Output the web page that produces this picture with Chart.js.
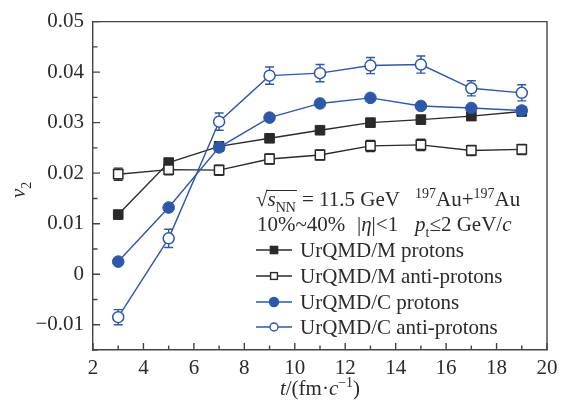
<!DOCTYPE html>
<html>
<head>
<meta charset="utf-8">
<script src="https://cdn.jsdelivr.net/npm/chart.js@4.4.1/dist/chart.umd.min.js"></script>
<style>
    body { margin: 0; background: #fff; }
    canvas { display: block; }
</style>
</head>
<body>
<canvas id="chart" width="565" height="401"></canvas>
<script>
const times = [3, 5, 7, 9, 11, 13, 15, 17, 19];
const mProtons = [0.0118, 0.0221, 0.0253, 0.0269, 0.0285, 0.0300, 0.0306, 0.0313, 0.0322];
const mAntiProtons = [0.0198, 0.0207, 0.0206, 0.0228, 0.0236, 0.0254, 0.0256, 0.0245, 0.0247];
const mAntiErr = [0.0012, 0.0010, 0.0010, 0.0010, 0.0010, 0.0011, 0.0011, 0.0010, 0.0010];
const cProtons = [0.0025, 0.0132, 0.0251, 0.0310, 0.0338, 0.0349, 0.0333, 0.0329, 0.0324];
const cAntiProtons = [-0.0085, 0.0071, 0.0302, 0.0393, 0.0398, 0.0413, 0.0415, 0.0368, 0.0359];
const cAntiErr = [0.0015, 0.0018, 0.0017, 0.0017, 0.0017, 0.0016, 0.0017, 0.0015, 0.0016];
const seriesNames = ['UrQMD/M protons', 'UrQMD/M anti-protons', 'UrQMD/C protons', 'UrQMD/C anti-protons'];

const BLACK = '#2a2a2a';
const BLUE = '#2d58a8';
const TEXT = '#2b2b2b';
const FONT = '"Liberation Serif", "Times New Roman", serif';

const toPoints = (vals) => times.map((t, i) => ({ x: t, y: vals[i] }));

// draw a row of text pieces (italic / sub / sup)
function drawRuns(ctx, x, y, runs, size) {
    let cx = x;
    runs.forEach(r => {
        const small = r.sub || r.sup;
        const fs = small ? Math.round(size * 0.66) : size;
        ctx.font = `${r.italic ? 'italic ' : ''}${fs}px ${FONT}`;
        let dy = 0;
        if (r.sub) dy = size * 0.28;
        if (r.sup) dy = -size * 0.38;
        ctx.fillText(r.t, cx, y + dy);
        cx += ctx.measureText(r.t).width + (r.gap || 0);
    });
    return cx;
}

function runsWidth(ctx, runs, size) {
    let w = 0;
    runs.forEach(r => {
        const fs = (r.sub || r.sup) ? Math.round(size * 0.66) : size;
        ctx.font = `${r.italic ? 'italic ' : ''}${fs}px ${FONT}`;
        w += ctx.measureText(r.t).width + (r.gap || 0);
    });
    return w;
}

function drawMarker(ctx, kind, x, y, s) {
    ctx.save();
    ctx.lineWidth = 1.4;
    if (kind === 'fsq' || kind === 'osq') {
        ctx.fillStyle = kind === 'fsq' ? BLACK : '#fff';
        ctx.strokeStyle = BLACK;
        ctx.fillRect(x - s, y - s, 2 * s, 2 * s);
        ctx.strokeRect(x - s, y - s, 2 * s, 2 * s);
    } else {
        ctx.beginPath();
        ctx.arc(x, y, s, 0, Math.PI * 2);
        ctx.fillStyle = kind === 'fci' ? BLUE : '#fff';
        ctx.strokeStyle = BLUE;
        ctx.fill();
        ctx.stroke();
    }
    ctx.restore();
}

const errorBars = {
    id: 'errorBars',
    beforeDatasetsDraw(chart) {
        const ctx = chart.ctx;
        const xs = chart.scales.x, ys = chart.scales.y;
        const sets = [[mAntiProtons, mAntiErr, BLACK], [cAntiProtons, cAntiErr, BLUE]];
        ctx.save();
        ctx.lineWidth = 1.4;
        sets.forEach(([vals, errs, color]) => {
            ctx.strokeStyle = color;
            times.forEach((t, i) => {
                const px = xs.getPixelForValue(t);
                const top = ys.getPixelForValue(vals[i] + errs[i]);
                const bot = ys.getPixelForValue(vals[i] - errs[i]);
                ctx.beginPath();
                ctx.moveTo(px, top); ctx.lineTo(px, bot);
                ctx.moveTo(px - 4.5, top); ctx.lineTo(px + 4.5, top);
                ctx.moveTo(px - 4.5, bot); ctx.lineTo(px + 4.5, bot);
                ctx.stroke();
            });
        });
        ctx.restore();
    }
};

const decorations = {
    id: 'decorations',
    afterDraw(chart) {
        const ctx = chart.ctx;
        const a = chart.chartArea;
        const xs = chart.scales.x, ys = chart.scales.y;
        ctx.save();

        // top and right frame
        ctx.strokeStyle = '#444';
        ctx.lineWidth = 1.4;
        ctx.beginPath();
        ctx.moveTo(a.left, a.top); ctx.lineTo(a.right, a.top); ctx.lineTo(a.right, a.bottom);
        ctx.stroke();

        // inward ticks
        ctx.beginPath();
        xs.ticks.forEach(tk => {
            const px = xs.getPixelForValue(tk.value);
            const len = tk.value % 2 === 0 ? 7 : 4.5;
            ctx.moveTo(px, a.bottom); ctx.lineTo(px, a.bottom - len);
        });
        ys.ticks.forEach(tk => {
            const py = ys.getPixelForValue(tk.value);
            const major = Math.abs(tk.value * 100 - Math.round(tk.value * 100)) < 1e-6;
            ctx.moveTo(a.left, py); ctx.lineTo(a.left + (major ? 7 : 4.5), py);
        });
        ctx.stroke();

        ctx.fillStyle = TEXT;
        ctx.textBaseline = 'alphabetic';
        ctx.textAlign = 'left';

        // x axis title
        const xTitle = [{ t: 't', italic: true }, { t: '/(fm\u00b7' }, { t: 'c', italic: true }, { t: '\u22121', sup: true }, { t: ')' }];
        const size = 21;
        const w = runsWidth(ctx, xTitle, size);
        drawRuns(ctx, (a.left + a.right) / 2 - w / 2, 395, xTitle, size);

        // y axis title
        ctx.save();
        ctx.translate(25, 190);
        ctx.rotate(-Math.PI / 2);
        drawRuns(ctx, -8, 0, [{ t: 'v', italic: true }, { t: '2', sub: true }], size);
        ctx.restore();

        // annotation lines
        const x0 = 256;
        ctx.font = `${size}px ${FONT}`;
        ctx.fillText('\u221a', x0, 206);
        const sx = x0 + ctx.measureText('\u221a').width;
        const afterS = drawRuns(ctx, sx, 206, [{ t: 's', italic: true }, { t: 'NN', sub: true, gap: 6 }], size);
        ctx.strokeStyle = TEXT;
        ctx.lineWidth = 1;
        ctx.beginPath();
        ctx.moveTo(sx - 1, 190.5); ctx.lineTo(afterS - 5, 190.5);
        ctx.stroke();
        drawRuns(ctx, afterS, 206, [{ t: '= 11.5 GeV' }], size);
        drawRuns(ctx, 415, 206, [{ t: '197', sup: true }, { t: 'Au+' }, { t: '197', sup: true }, { t: 'Au' }], size);

        drawRuns(ctx, 257, 231, [{ t: '10%~40%' }], size);
        drawRuns(ctx, 357, 231, [{ t: '|' }, { t: '\u03b7', italic: true }, { t: '|<1' }], size);
        drawRuns(ctx, 415, 231, [{ t: 'p', italic: true }, { t: 't', sub: true }, { t: '\u2264' }, { t: '2 GeV/' }, { t: 'c', italic: true }], size);

        // legend entries
        const kinds = [['fsq', BLACK, 3.6], ['osq', BLACK, 3.4], ['fci', BLUE, 4.5], ['oci', BLUE, 4]];
        const rows = [250, 276, 302, 327];
        kinds.forEach(([kind, color, s], i) => {
            const y = rows[i];
            ctx.strokeStyle = color;
            ctx.lineWidth = 1.4;
            ctx.beginPath();
            ctx.moveTo(256, y); ctx.lineTo(292, y);
            ctx.stroke();
            drawMarker(ctx, kind, 274, y, s);
            ctx.fillStyle = TEXT;
            ctx.font = `${size}px ${FONT}`;
            ctx.fillText(seriesNames[i], 300, y + 7);
        });

        ctx.restore();
    }
};

const chart = new Chart(document.getElementById('chart'), {
    type: 'line',
    data: {
        datasets: [
            {
                label: seriesNames[3], data: toPoints(cAntiProtons), order: 1,
                borderColor: BLUE, backgroundColor: '#fff', borderWidth: 1.4,
                pointStyle: 'circle', pointRadius: 5.5, pointBorderWidth: 1.5, pointBorderColor: BLUE
            },
            {
                label: seriesNames[2], data: toPoints(cProtons), order: 2,
                borderColor: BLUE, backgroundColor: BLUE, borderWidth: 1.4,
                pointStyle: 'circle', pointRadius: 5.8, pointBorderWidth: 1, pointBorderColor: BLUE
            },
            {
                label: seriesNames[1], data: toPoints(mAntiProtons), order: 3,
                borderColor: BLACK, backgroundColor: '#fff', borderWidth: 1.4,
                pointStyle: 'rect', pointRadius: 6.6, pointBorderWidth: 1.5, pointBorderColor: BLACK
            },
            {
                label: seriesNames[0], data: toPoints(mProtons), order: 4,
                borderColor: BLACK, backgroundColor: BLACK, borderWidth: 1.4,
                pointStyle: 'rect', pointRadius: 6.8, pointBorderWidth: 1, pointBorderColor: BLACK
            }
        ]
    },
    options: {
        responsive: false,
        animation: false,
        layout: { padding: { left: 0, right: 18, top: 16, bottom: 0 } },
        plugins: {
            legend: { display: false },
            tooltip: { enabled: false }
        },
        scales: {
            x: {
                type: 'linear',
                min: 2,
                max: 20,
                afterFit: (s) => { s.height = 51; },
                grid: { display: false, drawTicks: false },
                border: { display: true, color: '#444', width: 1.4 },
                ticks: {
                    stepSize: 1,
                    autoSkip: false,
                    maxRotation: 0,
                    padding: 6,
                    color: TEXT,
                    font: { family: FONT, size: 21 },
                    callback: (v) => (v % 2 === 0 ? String(v) : '')
                }
            },
            y: {
                type: 'linear',
                min: -0.015,
                max: 0.05,
                afterFit: (s) => { s.width = 93; },
                grid: { display: false, drawTicks: false },
                border: { display: true, color: '#444', width: 1.4 },
                ticks: {
                    stepSize: 0.005,
                    autoSkip: false,
                    padding: 9,
                    color: TEXT,
                    font: { family: FONT, size: 21 },
                    callback: (v) => {
                        const r = Math.round(v * 1000) / 1000;
                        if (Math.abs(r * 100 - Math.round(r * 100)) > 1e-6) return '';
                        if (r === 0) return '0';
                        return r < 0 ? '\u2212' + Math.abs(r).toFixed(2) : r.toFixed(2);
                    }
                }
            }
        }
    },
    plugins: [errorBars, decorations]
});
</script>
</body>
</html>
